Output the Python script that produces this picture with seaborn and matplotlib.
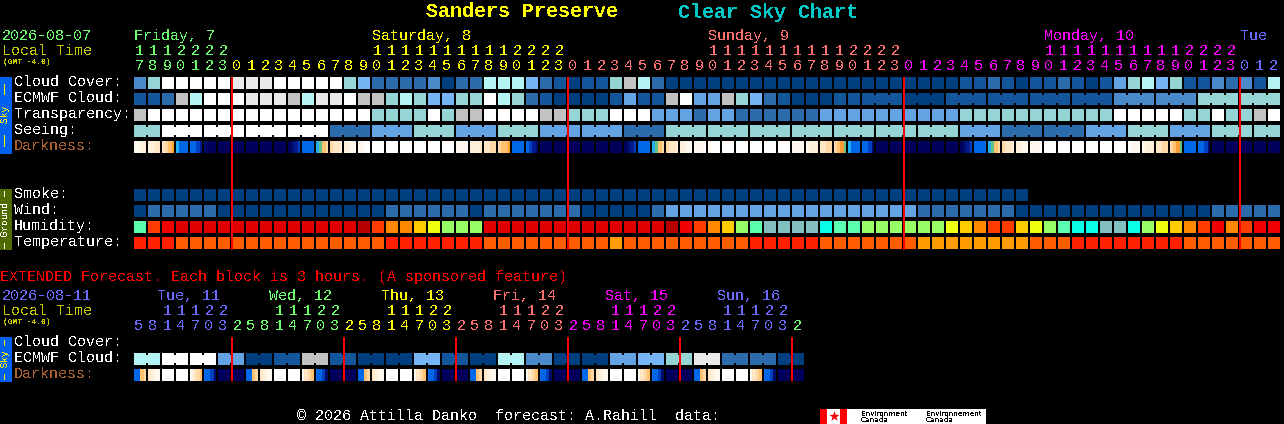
import numpy as np
import matplotlib
matplotlib.use("Agg")
import matplotlib.pyplot as plt
from matplotlib.colors import ListedColormap
from matplotlib.patches import Rectangle
import seaborn as sns

W, H = 1284, 424

# --- colour tables ---
sky_colors = ["#003f7f", "#13569b", "#2c6cac", "#4a8aca", "#63a3e3", "#75b5f5",
              "#95d5d5", "#b4f4f4", "#c2c2c2", "#e9e9e9", "#ffffff"]
humid_colors = ["#5cffb0", "#ff3c00", "#e00000", "#b80000", "#f00000", "#ff8800",
                "#ffcc00", "#eeff10", "#99ff66", "#84bfbf", "#08ffe8"]
temp_colors = ["#ff2000", "#ff5c00", "#ff9c00"]
dark_colors = ["#ffffff", "#fff8ee", "#fff0dc", "#ffe6c4", "#ffd8a4", "#ffc070", "#ffa030",
               "#20b0f0", "#0068e8", "#0040c0", "#001a90", "#000a68", "#00005c", "#60c090"]
dark_codes = "0123456789abcd"

BLUE = "#6a6aff"
GREEN = "#6aff6a"
YELLOW = "#ffff00"
SALMON = "#ff7070"
MAGENTA = "#ff00ff"

# --- main forecast, one value per hour ---
hours = [17, 18, 19, 20, 21, 22, 23,
         0, 1, 2, 3, 4, 5, 6, 7, 8, 9, 10, 11, 12, 13, 14, 15, 16, 17, 18, 19, 20, 21, 22, 23,
         0, 1, 2, 3, 4, 5, 6, 7, 8, 9, 10, 11, 12, 13, 14, 15, 16, 17, 18, 19, 20, 21, 22, 23,
         0, 1, 2, 3, 4, 5, 6, 7, 8, 9, 10, 11, 12, 13, 14, 15, 16, 17, 18, 19, 20, 21, 22, 23,
         0, 1, 2]
hour_colors = [GREEN] * 7 + [YELLOW] * 24 + [SALMON] * 24 + [MAGENTA] * 24 + [BLUE] * 3

cloud = [3, 6, 10, 10, 10, 10, 10, 9, 9, 9, 10, 10, 10, 10, 10, 6, 5, 2, 2, 2, 2,
         3, 0, 2, 2, 7, 7, 7, 5, 2, 1, 0, 1, 1, 6, 8, 7, 2, 0, 0, 0, 0, 0, 0, 0, 0,
         0, 0, 0, 0, 0, 0, 0, 0, 0, 0, 0, 0, 0, 1, 1, 2, 1, 0, 1, 1, 2, 1, 0, 1, 4,
         6, 7, 5, 6, 1, 1, 3, 2, 3, 1, 7]
ecmwf = [1, 1, 2, 8, 7, 10, 10, 10, 9, 9, 9, 8, 7, 9, 9, 10, 8, 8, 6, 7, 6,
         5, 5, 6, 6, 10, 7, 6, 2, 1, 0, 0, 0, 0, 1, 4, 1, 1, 8, 10, 4, 4, 8, 6, 5, 2,
         1, 0, 0, 0, 1, 1, 1, 1, 1, 0, 0, 0, 1, 1, 1, 1, 1, 1, 1, 1, 1, 1, 1, 1,
         3, 3, 3, 3, 3, 3, 6, 6, 6, 6, 6, 6]
transparency = [8, 10, 10, 10, 10, 10, 10, 10, 10, 10, 10, 10, 10, 10, 10, 10, 10, 6, 6, 6, 6,
                10, 6, 8, 8, 10, 10, 10, 10, 8, 8, 6, 6, 6, 10, 10, 10, 4, 4, 4, 2, 4, 4, 2, 2, 2,
                2, 2, 2, 4, 4, 4, 4, 4, 4, 4, 4, 4, 4, 6, 6, 6, 6, 6, 6, 6, 6, 6, 6, 6,
                10, 10, 10, 10, 10, 6, 6, 10, 6, 6, 8, 10]
seeing = [6, 6, 10, 10, 10, 10, 10, 10, 10, 10, 10, 10, 10, 10, 2, 2, 2, 4, 4, 4, 6,
          6, 6, 4, 4, 4, 6, 6, 6, 4, 4, 4, 4, 4, 4, 2, 2, 2, 6, 6, 6, 6, 6, 6, 6, 6,
          6, 6, 6, 6, 6, 6, 6, 6, 6, 6, 6, 6, 6, 4, 4, 4, 2, 2, 2, 2, 2, 2, 4, 4,
          4, 6, 6, 6, 4, 4, 4, 6, 6, 6, 6, 6]
darkness = ["1122", "2233", "3456", "7888", "889a", "bccc", "cccc", "cccc", "cccc", "cccc", "cccc",
            "cba9", "8888", "7d54", "4332", "2211", "1100", "0000", "0000", "0000", "0000",
            "0000", "0000", "1111", "2223", "3344", "4556", "8888", "89ab", "cccc", "cccc",
            "cccc", "cccc", "cccc", "cccc", "cba9", "8888", "7d54", "4332", "2211", "1110",
            "1000", "0000", "0000", "0000", "0000", "0000", "1111", "1222", "3344", "456d",
            "7888", "889b", "cccc", "cccc", "cccc", "cccc", "cccc", "cccc", "cba9", "8888",
            "7d54", "4332", "2211", "1110", "0000", "0000", "0000", "0000", "0000", "0000",
            "0111", "1222", "3344", "456d", "8888", "889b", "cccc", "cccc", "cccc", "cccc", "cccc"]
smoke = [0] * 64 + [np.nan] * 18
wind = [0, 2, 2, 2, 2, 2, 0, 0, 0, 0, 0, 0, 0, 0, 0, 0, 0, 0, 2, 2, 2,
        2, 2, 2, 0, 2, 2, 2, 2, 2, 2, 2, 0, 0, 0, 0, 0, 2, 4, 4, 4, 4, 4, 4, 4, 4,
        4, 4, 4, 4, 4, 4, 4, 4, 4, 4, 2, 2, 2, 2, 2, 2, 2, 0, 0, 0, 0, 0, 0, 0,
        0, 0, 0, 0, 0, 0, 0, 2, 2, 2, 2, 2]
humidity = [0, 1, 4, 2, 2, 2, 2, 2, 2, 2, 2, 2, 2, 2, 2, 2, 3, 1, 5, 5, 6,
            7, 8, 8, 8, 2, 2, 2, 2, 2, 2, 2, 2, 2, 2, 2, 2, 2, 3, 4, 1, 5, 6, 8, 0, 9,
            9, 9, 9, 10, 0, 0, 8, 8, 8, 8, 8, 8, 7, 6, 5, 1, 1, 6, 7, 8, 0, 10, 10, 9,
            9, 10, 8, 7, 6, 5, 1, 4, 5, 1, 4, 4]
temperature = [0, 0, 0, 1, 1, 1, 1, 1, 1, 1, 1, 1, 1, 1, 1, 1, 1, 1, 0, 0, 0,
               0, 0, 0, 0, 1, 1, 1, 1, 1, 1, 1, 1, 1, 2, 1, 1, 1, 1, 1, 1, 1, 1, 1, 0, 0,
               0, 0, 0, 1, 1, 1, 1, 1, 1, 1, 2, 2, 2, 2, 2, 2, 2, 2, 1, 1, 1, 0, 0, 0,
               0, 0, 0, 0, 0, 1, 1, 1, 1, 1, 1, 1]

seeing_blocks = [2] + [3] * 26 + [2]
ecmwf_blocks = [1] * 52 + [3] * 10

sky_rows = [("Cloud Cover:", cloud, None), ("ECMWF Cloud:", ecmwf, ecmwf_blocks),
            ("Transparency:", transparency, None), ("Seeing:", seeing, seeing_blocks)]
ground_rows = [("Smoke:", smoke, sky_colors), ("Wind:", wind, sky_colors),
               ("Humidity:", humidity, humid_colors), ("Temperature:", temperature, temp_colors)]

day_labels = [("Friday, 7", 134, GREEN), ("Saturday, 8", 372, YELLOW), ("Sunday, 9", 708, SALMON),
              ("Monday, 10", 1044, MAGENTA), ("Tue", 1240, BLUE)]

# --- extended forecast, one value per 3 hours ---
ext_hours = [5, 8, 11, 14, 17, 20, 23,
             2, 5, 8, 11, 14, 17, 20, 23,
             2, 5, 8, 11, 14, 17, 20, 23,
             2, 5, 8, 11, 14, 17, 20, 23,
             2, 5, 8, 11, 14, 17, 20, 23,
             2, 5, 8, 11, 14, 17, 20, 23,
             2]
ext_hour_colors = [BLUE] * 7 + [GREEN] * 8 + [YELLOW] * 8 + [SALMON] * 8 + [MAGENTA] * 8 + [BLUE] * 8 + [GREEN]
ext_ecmwf = [7, 7, 10, 10, 10, 10, 4, 4, 0, 0, 1, 1, 8, 8, 1, 1, 0, 0, 0, 0, 5, 5, 1, 1,
             0, 0, 7, 7, 3, 3, 0, 0, 0, 0, 4, 4, 5, 5, 6, 6, 9, 9, 2, 2, 2, 2, 0, 0]
ext_darkness = ["8854", "3211", "0000", "0000", "1345", "889b", "cccc", "cccc",
                "8854", "3211", "0000", "0000", "1345", "889b", "cccc", "cccc",
                "8854", "3211", "0000", "0000", "1345", "889b", "cccc", "cccc",
                "8854", "3211", "0000", "0000", "1345", "889b", "cccc", "cccc",
                "8854", "3211", "0000", "0000", "1345", "889b", "cccc", "cccc",
                "8854", "3211", "0000", "0000", "1345", "889b", "cccc", "cccc"]
ext_blocks = [2] * 24
ext_day_labels = [("Tue, 11", 157, BLUE), ("Wed, 12", 269, GREEN), ("Thu, 13", 381, YELLOW),
                  ("Fri, 14", 493, SALMON), ("Sat, 15", 605, MAGENTA), ("Sun, 16", 717, BLUE)]

FONT = "Liberation Mono"
LEFT = 134
STEP = 14
LW = 2 * 72 / 100  # 2 px


def px_axes(x, y, w, h):
    ax = fig.add_axes([x / W, 1 - (y + h) / H, w / W, h / H])
    ax.set_facecolor("black")
    ax.axis("off")
    return ax


def cell_row(values, colors, y, blocks=None):
    n = len(values)
    ax = px_axes(LEFT - 1, y - 1, STEP * n, STEP)
    data = np.array([values], dtype=float)
    sns.heatmap(data, cmap=ListedColormap(colors), vmin=-0.5, vmax=len(colors) - 0.5,
                mask=np.isnan(data), linewidths=LW, linecolor="black", cbar=False,
                xticklabels=False, yticklabels=False, ax=ax, antialiased=False)
    ax.axis("off")
    # joined blocks: a narrow bridge across the gap
    if blocks is not None:
        start = 0
        for size in blocks:
            for i in range(start, start + size - 1):
                ax.add_patch(Rectangle((i + 1 - 2 / STEP, 3 / STEP), 4 / STEP, 8 / STEP,
                                       color=colors[values[i]], lw=0, antialiased=False, zorder=3))
            start += size


def dark_row(cells, y):
    levels = [dark_codes.index(c) for cell in cells for c in cell]
    ax = px_axes(LEFT - 1, y, STEP * len(cells), 12)
    sns.heatmap(np.array([levels]), cmap=ListedColormap(dark_colors), vmin=-0.5,
                vmax=len(dark_colors) - 0.5, cbar=False, xticklabels=False, yticklabels=False,
                ax=ax, antialiased=False)
    ax.axis("off")
    ax.vlines(np.arange(len(cells) + 1) * 4, 0, 1, color="black", lw=LW, zorder=3, antialiased=False)


def label(x, y, s, **kw):
    bg.text(x, y + 1, s, va="center", **kw)


def hour_text(hrs, cols, y):
    for i, (h, c) in enumerate(zip(hrs, cols)):
        x = LEFT + STEP * i + 5
        if h >= 10:
            label(x, y, str(h // 10), color=c, ha="center")
        label(x, y + 15, str(h % 10), color=c, ha="center")


sns.set_theme(style="white", rc={"figure.facecolor": "black", "savefig.facecolor": "black"})
plt.rcParams["font.family"] = [FONT, "DejaVu Sans"]
plt.rcParams["font.size"] = 10.8
plt.rcParams["text.antialiased"] = False
plt.rcParams["text.hinting"] = "native"

fig = plt.figure(figsize=(W / 100, H / 100), dpi=100)
bg = fig.add_axes([0, 0, 1, 1])
bg.set_xlim(0, W)
bg.set_ylim(H, 0)
bg.axis("off")

# title
label(426, 11, "Sanders Preserve", color=YELLOW, fontsize=14.4, fontweight="bold")
label(678, 11, "Clear Sky Chart", color="#00c8c8", fontsize=14.4, fontweight="bold")

# header, main block
label(2, 35, "2026-08-07", color=GREEN)
label(2, 50, "Local Time", color="#c8c800")
label(3, 61, "(GMT -4.0)", color="#c8c800", fontsize=5.7, fontweight="bold")
for text, x, c in day_labels:
    label(x, 35, text, color=c)
hour_text(hours, hour_colors, 50)

# sky rows
for k, (text, values, blocks) in enumerate(sky_rows):
    y = 77 + 16 * k
    label(14, y + 4, text, color="white")
    cell_row(values, sky_colors, y, blocks)
label(14, 145, "Darkness:", color="#a86030")
dark_row(darkness, 141)

# ground rows
for k, (text, values, colors) in enumerate(ground_rows):
    y = 189 + 16 * k
    label(14, y + 4, text, color="white")
    cell_row(values, colors, y)

# side bars
bg.add_patch(Rectangle((0, 77), 12, 77, color="#0060f0", lw=0))
bg.add_patch(Rectangle((0, 189), 12, 61, color="#4f6b00", lw=0))
bg.add_patch(Rectangle((0, 337), 12, 45, color="#0060f0", lw=0))
side = dict(rotation=90, fontsize=6.8, ha="center", va="center")
bg.text(6, 114, "\u2014\u2014  Sky  \u2014\u2014", color=YELLOW, **side)
bg.text(6, 219, "\u2014 Ground \u2014", color="white", **side)
bg.text(6, 359, "\u2014 Sky \u2014", color=YELLOW, **side)

# extended block
label(0, 276, "EXTENDED Forecast. Each block is 3 hours. (A sponsored feature)", color="#ff0000")
label(2, 295, "2026-08-11", color=BLUE)
label(2, 310, "Local Time", color="#c8c800")
label(3, 321, "(GMT -4.0)", color="#c8c800", fontsize=5.7, fontweight="bold")
for text, x, c in ext_day_labels:
    label(x, 295, text, color=c)
hour_text(ext_hours, ext_hour_colors, 310)
label(14, 341, "Cloud Cover:", color="white")
label(14, 357, "ECMWF Cloud:", color="white")
label(14, 373, "Darkness:", color="#a86030")
cell_row(ext_ecmwf, sky_colors, 353, ext_blocks)
dark_row(ext_darkness, 369)

# midnight lines, drawn over the cells
top = fig.add_axes([0, 0, 1, 1], facecolor="none")
midnight = [i for i, h in enumerate(hours) if h == 0]
top.bar([LEFT + STEP * i - 1 for i in midnight], 173, width=2, bottom=77, align="edge",
        color="#ff0000", lw=0, antialiased=False)
ext_midnight = [i + 1 for i, h in enumerate(ext_hours) if h == 23]
top.bar([LEFT + STEP * i - 1 for i in ext_midnight], 44, width=2, bottom=337, align="edge",
        color="#ff0000", lw=0, antialiased=False)
top.set_xlim(0, W)
top.set_ylim(H, 0)
top.axis("off")

# footer
label(297, 415, "\u00a9 2026 Attilla Danko  forecast: A.Rahill  data:", color="white")
bg.add_patch(Rectangle((820, 409), 166, 15, color="white", lw=0))
bg.add_patch(Rectangle((820, 409), 7, 15, color="#ff0000", lw=0))
bg.add_patch(Rectangle((840, 409), 7, 15, color="#ff0000", lw=0))
bg.scatter([833.5], [416], marker="*", s=60, color="#ff0000", lw=0, zorder=3)
bg.set_xlim(0, W)
bg.set_ylim(H, 0)
for x, word in [(861, "Environment"), (926, "Environnement")]:
    bg.text(x, 413, word, color="black", family="DejaVu Sans", fontsize=5.2, va="center")
    bg.text(x, 420, "Canada", color="black", family="DejaVu Sans", fontsize=5.2, va="center")

fig.savefig("out.png", dpi=100, facecolor="black")
